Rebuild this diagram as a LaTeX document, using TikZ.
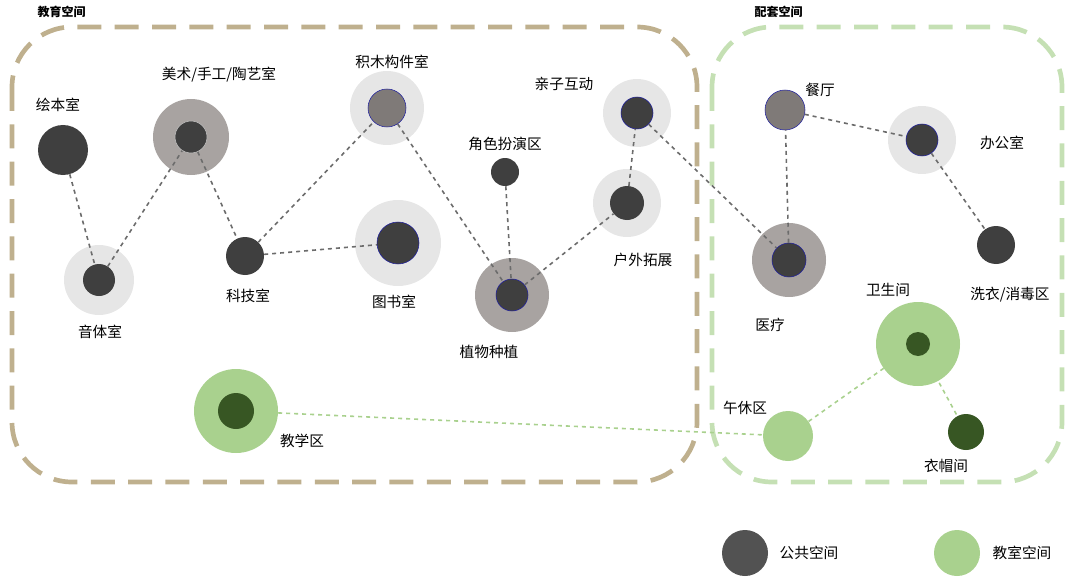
\documentclass[tikz,border=0pt]{standalone}
\usepackage{fontspec}
\setmainfont{Noto Sans CJK SC}
\begin{document}
\begin{tikzpicture}[x=0.75pt,y=-0.75pt,
 dk/.style={fill=dk,draw=none},
 lbl/.style={font=\fontsize{11}{12}\selectfont,text=black},
 edge/.style={draw=gray!85!black,dashed,line width=1.2pt},
 gedge/.style={draw=gr,dashed,line width=1.2pt}]
\definecolor{dk}{HTML}{3F3F3F}
\definecolor{md}{HTML}{7F7A78}
\definecolor{halog}{HTML}{A8A3A1}
\definecolor{halol}{HTML}{E6E6E6}
\definecolor{gr}{HTML}{A9D18E}
\definecolor{dg}{HTML}{375623}
\definecolor{tan}{HTML}{BFB08E}
\definecolor{lg}{HTML}{C5E0B4}
\useasboundingbox (0,0) rectangle (1080,581);
\draw[tan,line width=3.5pt,dash pattern=on 18pt off 10pt,rounded corners=45pt] (12,27) rectangle (697,482);
\draw[lg,line width=3.5pt,dash pattern=on 18pt off 10pt,rounded corners=45pt] (712,27) rectangle (1062,482);
\node[font=\bfseries\fontsize{9}{10}\selectfont,anchor=west] (t1) at (33,12) {教育空间};
\node[font=\bfseries\fontsize{9}{10}\selectfont,anchor=west] (t2) at (750,12) {配套空间};
% halos
\fill[halol] (99,280) circle (35);
\fill[halog] (191,137) circle (38);
\fill[halol] (387,108) circle (37);
\fill[halol] (398,243) circle (43);
\fill[halog] (512,295) circle (37);
\fill[halol] (637,113) circle (34);
\fill[halol] (627,203) circle (34);
\fill[halol] (922,140) circle (34);
\fill[halog] (789,260) circle (37);
\fill[gr] (918,344) circle (42);
\fill[gr] (236,411) circle (42);
% nodes
\node[circle,fill=dk,minimum size=50pt*0.75] (hb) at (63,150) {};
\node[circle,fill=dk,minimum size=32pt*0.75] (yt) at (99,280) {};
\node[circle,fill=dk,draw=white!70!dk,minimum size=32pt*0.75] (ms) at (191,137) {};
\node[circle,fill=dk,minimum size=38pt*0.75] (kj) at (245,256) {};
\node[circle,fill=md,draw=dk!50!blue,minimum size=38pt*0.75] (jm) at (387,108) {};
\node[circle,fill=dk,draw=dk!50!blue,minimum size=42pt*0.75] (ts) at (398,243) {};
\node[circle,fill=dk,minimum size=28pt*0.75] (js) at (505,172) {};
\node[circle,fill=dk,draw=dk!50!blue,minimum size=32pt*0.75] (zw) at (512,295) {};
\node[circle,fill=dk,draw=dk!50!blue,minimum size=32pt*0.75] (qz) at (637,113) {};
\node[circle,fill=dk,minimum size=34pt*0.75] (hw) at (627,203) {};
\node[circle,fill=md,draw=dk!50!blue,minimum size=40pt*0.75] (ct) at (785,110) {};
\node[circle,fill=dk,draw=dk!50!blue,minimum size=32pt*0.75] (bg) at (922,140) {};
\node[circle,fill=dk,draw=dk!50!blue,minimum size=34pt*0.75] (yl) at (789,260) {};
\node[circle,fill=dk,minimum size=38pt*0.75] (xy) at (996,245) {};
\node[circle,fill=dg,minimum size=24pt*0.75] (ws) at (918,344) {};
\node[circle,fill=gr,minimum size=50pt*0.75] (wx) at (788,436) {};
\node[circle,fill=dg,minimum size=36pt*0.75] (ym) at (966,432) {};
\node[circle,fill=dg,minimum size=36pt*0.75] (jx) at (236,411) {};
% edges
\begin{scope}[on background layer/.style={}]
\end{scope}
\draw[edge] (hb)--(yt); \draw[edge] (yt)--(ms); \draw[edge] (ms)--(kj);
\draw[edge] (kj)--(jm); \draw[edge] (kj)--(ts); \draw[edge] (jm)--(zw);
\draw[edge] (js)--(zw); \draw[edge] (zw)--(hw); \draw[edge] (hw)--(qz);
\draw[edge] (qz)--(yl); \draw[edge] (yl)--(ct); \draw[edge] (ct)--(bg); \draw[edge] (bg)--(xy);
\draw[gedge] (jx)--(wx); \draw[gedge] (wx)--(ws); \draw[gedge] (ws)--(ym);
% labels
\node[lbl] (l1) at (58,105) {绘本室};
\node[lbl] (l2) at (100,332) {音体室};
\node[lbl] (l3) at (219,75) {美术/手工/陶艺室};
\node[lbl] (l4) at (248,296) {科技室};
\node[lbl] (l5) at (392,62) {积木构件室};
\node[lbl] (l6) at (394,302) {图书室};
\node[lbl] (l7) at (505,144) {角色扮演区};
\node[lbl] (l8) at (489,352) {植物种植};
\node[lbl] (l9) at (564,84) {亲子互动};
\node[lbl] (l10) at (643,260) {户外拓展};
\node[lbl] (l11) at (820,90) {餐厅};
\node[lbl] (l12) at (1002,143) {办公室};
\node[lbl] (l13) at (770,325) {医疗};
\node[lbl] (l14) at (1010,295) {洗衣/消毒区};
\node[lbl] (l15) at (888,290) {卫生间};
\node[lbl] (l16) at (745,408) {午休区};
\node[lbl] (l17) at (946,466) {衣帽间};
\node[lbl] (l18) at (302,441) {教学区};
% legend
\node[circle,fill=dk!90!white,minimum size=46pt*0.75] (lg1) at (745,553) {};
\node[lbl,anchor=west] (lt1) at (775,553) {公共空间};
\node[circle,fill=gr,minimum size=46pt*0.75] (lg2) at (957,553) {};
\node[lbl,anchor=west] (lt2) at (988,553) {教室空间};
\end{tikzpicture}
\end{document}
